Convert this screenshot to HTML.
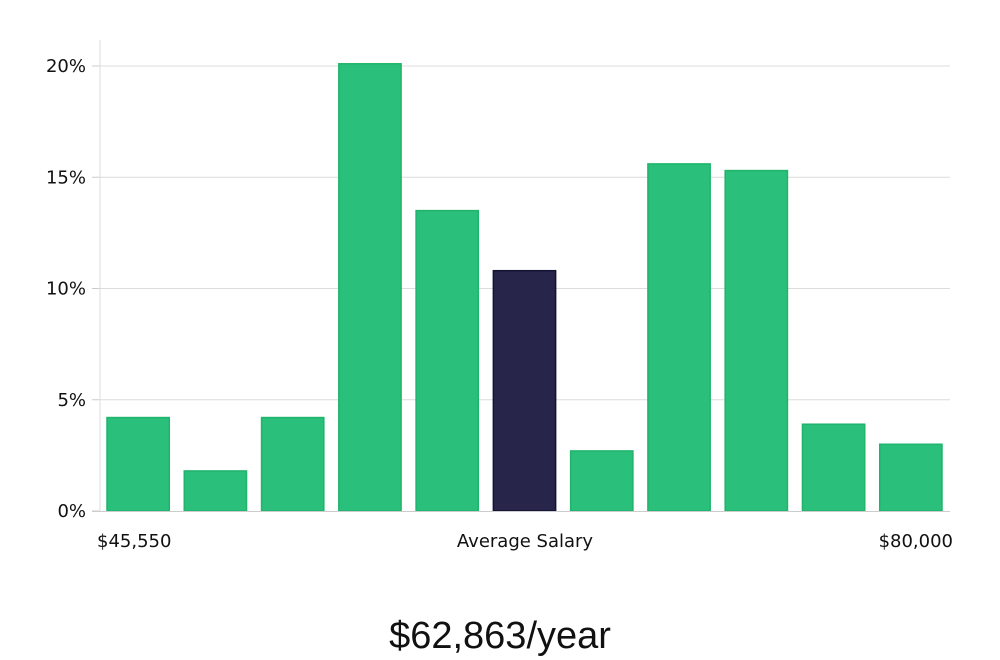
<!DOCTYPE html>
<html><head><meta charset="utf-8"><style>
html,body{margin:0;padding:0;background:#fff;}
svg{display:block;font-family:"DejaVu Sans","Liberation Sans",sans-serif;}
</style></head><body>
<svg id="chart" width="1000" height="660" viewBox="0 0 1000 660" xmlns="http://www.w3.org/2000/svg">
<g id="grid"></g><g id="bars"></g><g id="axes"></g>
<text x="97" y="547" font-size="18" fill="#111">$45,550</text>
<text x="525" y="547" font-size="18" fill="#111" text-anchor="middle">Average Salary</text>
<text x="953" y="547" font-size="18" fill="#111" text-anchor="end">$80,000</text>
<text x="500" y="648" font-size="38" fill="#111" text-anchor="middle" font-family="'Liberation Sans Narrow','Liberation Sans',sans-serif">$62,863/year</text>
</svg>
<script>
const values = [4.2, 1.8, 4.2, 20.1, 13.5, 10.8, 2.7, 15.6, 15.3, 3.9, 3.0];
const highlightIndex = [5];
const yTicks = [0, 5, 10, 15, 20];
const yTickLabels = ["0%", "5%", "10%", "15%", "20%"];
const NS = "http://www.w3.org/2000/svg";
const x0 = 100, x1 = 950, yBase = 511, yTop = 66;
const yScale = v => yBase - v / 20 * (yBase - yTop);
const step = (x1 - x0) / values.length;
const xScale = i => x0 + i * step + 7;
const bw = step - 15;
function mk(tag, attrs, parent){const e=document.createElementNS(NS,tag);for(const k in attrs)e.setAttribute(k,attrs[k]);parent.appendChild(e);return e;}
const grid=document.getElementById('grid'), bars=document.getElementById('bars'), axes=document.getElementById('axes');
yTicks.forEach((t,i)=>{
  const y=yScale(t);
  if(t>0){const g=mk('line',{x1:x0,x2:x1,y1:y,y2:y,stroke:'#dcdcdc','stroke-width':1},grid);
  
  }
  const tk=mk('line',{x1:x0-8,x2:x0,y1:y,y2:y,stroke:'#ccc','stroke-width':1},axes);
  
  
  const lb=mk('text',{x:x0-14,y:y+6,'font-size':18,'text-anchor':'end',fill:'#111'},axes);
  lb.textContent=yTickLabels[i];
  
  
});
values.forEach((v,i)=>{
  const hi=highlightIndex.includes(i);
  const r=mk('rect',{x:xScale(i),y:yScale(v),width:bw,height:yBase-yScale(v),fill:hi?'#28254a':'#2abf7a',stroke:hi?'#131233':'#20b46c','stroke-width':1.5},bars);
  
  
});
const ya=mk('line',{x1:x0,x2:x0,y1:40,y2:yBase,stroke:'#ddd','stroke-width':1},axes);


const xa=mk('line',{x1:x0-8,x2:x1,y1:yBase+0.5,y2:yBase+0.5,stroke:'#ccc','stroke-width':1},axes);


</script>
</body></html>
